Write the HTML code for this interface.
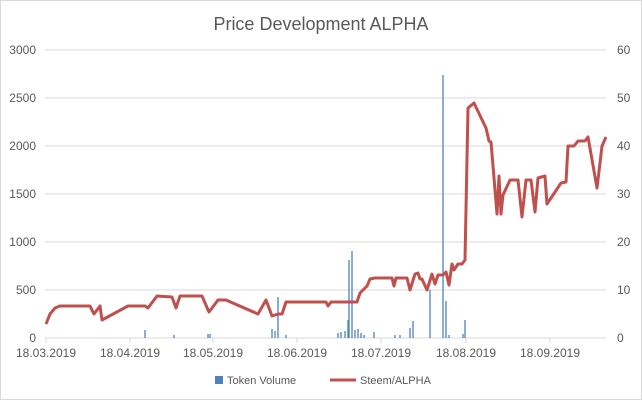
<!DOCTYPE html><html><head><style>body{margin:0;background:#fff}svg text{font-family:"Liberation Sans",sans-serif;fill:#595959}</style></head><body>
<svg width="642" height="400" viewBox="0 0 642 400">
<rect x="0.5" y="0.5" width="641" height="399" fill="#fff" stroke="#d9d9d9"/>
<text x="321" y="30" font-size="18" text-anchor="middle">Price Development ALPHA</text>
<g stroke="#d9d9d9" stroke-width="1">
<line x1="45" x2="606" y1="50" y2="50"/><line x1="45" x2="606" y1="98" y2="98"/><line x1="45" x2="606" y1="146" y2="146"/><line x1="45" x2="606" y1="194" y2="194"/><line x1="45" x2="606" y1="242" y2="242"/><line x1="45" x2="606" y1="290" y2="290"/><line x1="45" x2="606" y1="338" y2="338"/>
<line x1="46" x2="46" y1="338" y2="343"/><line x1="130" x2="130" y1="338" y2="343"/><line x1="213" x2="213" y1="338" y2="343"/><line x1="297" x2="297" y1="338" y2="343"/><line x1="381" x2="381" y1="338" y2="343"/><line x1="466" x2="466" y1="338" y2="343"/><line x1="550" x2="550" y1="338" y2="343"/>
</g>
<g font-size="12" text-anchor="end">
<text x="36" y="54">3000</text><text x="36" y="102">2500</text><text x="36" y="150">2000</text><text x="36" y="198">1500</text><text x="36" y="246">1000</text><text x="36" y="294">500</text><text x="36" y="342">0</text></g>
<g font-size="12" text-anchor="start">
<text x="617" y="54">60</text><text x="617" y="102">50</text><text x="617" y="150">40</text><text x="617" y="198">30</text><text x="617" y="246">20</text><text x="617" y="294">10</text><text x="617" y="342">0</text></g>
<g font-size="12" text-anchor="middle">
<text x="46" y="357">18.03.2019</text><text x="130" y="357">18.04.2019</text><text x="213" y="357">18.05.2019</text><text x="297" y="357">18.06.2019</text><text x="381" y="357">18.07.2019</text><text x="466" y="357">18.08.2019</text><text x="550" y="357">18.09.2019</text></g>
<g stroke="#4f81bd" stroke-width="1.3">
<line x1="145" x2="145" y1="338" y2="330"/><line x1="174" x2="174" y1="338" y2="335"/><line x1="208" x2="208" y1="338" y2="334"/><line x1="210" x2="210" y1="338" y2="334"/><line x1="272" x2="272" y1="338" y2="329"/><line x1="275" x2="275" y1="338" y2="331"/><line x1="278" x2="278" y1="338" y2="297"/><line x1="286" x2="286" y1="338" y2="335"/><line x1="338" x2="338" y1="338" y2="333"/><line x1="341" x2="341" y1="338" y2="332"/><line x1="345" x2="345" y1="338" y2="331"/><line x1="348" x2="348" y1="338" y2="320"/><line x1="349" x2="349" y1="338" y2="260"/><line x1="352" x2="352" y1="338" y2="251"/><line x1="355" x2="355" y1="338" y2="330"/><line x1="358" x2="358" y1="338" y2="329"/><line x1="361" x2="361" y1="338" y2="333"/><line x1="364" x2="364" y1="338" y2="335"/><line x1="374" x2="374" y1="338" y2="332"/><line x1="395" x2="395" y1="338" y2="335"/><line x1="400" x2="400" y1="338" y2="335"/><line x1="410" x2="410" y1="338" y2="328"/><line x1="413" x2="413" y1="338" y2="321"/><line x1="430" x2="430" y1="338" y2="290"/><line x1="443" x2="443" y1="338" y2="75"/><line x1="446" x2="446" y1="338" y2="301"/><line x1="449" x2="449" y1="338" y2="335"/><line x1="465" x2="465" y1="338" y2="320"/><line x1="463" x2="463" y1="338" y2="334"/></g>
<polyline fill="none" stroke="#c0504d" stroke-width="3" stroke-linejoin="round" points="46,324 50,314 55,308 60,306 90,306 94,314 100,306 102,320 128,306 145,306 148,308 157,296 172,297 176,308 180,296 202,296 209,312 218,300 226,300 258,314 266,300 272,316 278,314 282,314 286,302 326,302 328,306 331,302 355,302 357,302 360,293 365,288 367,286 370,279 375,278 392,278 394,286 396,278 407,278 410,290 415,274 418,273 420,279 422,279 427,290 432,274 435,284 438,275 443,275 446,272 449,285 452,264 454,270 458,264 462,264 465,260 468,108 474,103 486,128 489,141 491,142 497,214 499,176 501,214 503,195 510,180 518,180 522,217 526,180 531,180 535,212 538,178 545,176 547,204 553,195 561,183 566,182 568,146 574,146 578,141 585,141 588,137 597,188 602,146 606,137"/>
<rect x="215" y="376" width="8" height="8" fill="#4f81bd"/>
<text x="227" y="384" font-size="11">Token Volume</text>
<line x1="330" x2="356" y1="380" y2="380" stroke="#c0504d" stroke-width="3"/>
<text x="360" y="384" font-size="11">Steem/ALPHA</text>
</svg></body></html>
